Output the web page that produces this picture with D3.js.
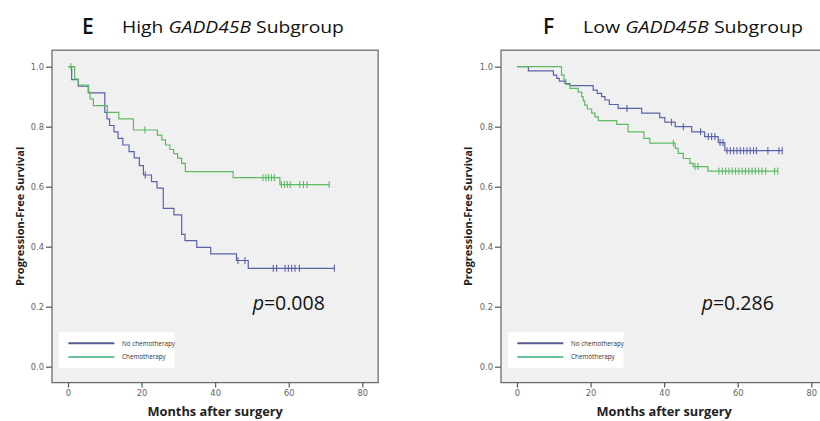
<!DOCTYPE html>
<html><head><meta charset="utf-8">
<script src="https://cdn.jsdelivr.net/npm/d3@7"></script>
<style>html,body{margin:0;padding:0;background:#fff;}svg{display:block;}</style>
</head><body>
<svg id="chart" width="820" height="421"></svg>
<script>
// ---------- data ----------
const xTicks = [0, 20, 40, 60, 80];
const yTicks = [0.0, 0.2, 0.4, 0.6, 0.8, 1.0];
const seriesNames = ["No chemotherapy", "Chemotherapy"];
const panelLetters = ["E", "F"];
const panelGroups = ["High", "Low"];
const pValues = ["0.008", "0.286"];

// High GADD45B – event steps [month, survival after drop]
const highNoChemoSteps = [[1.0,0.957],[2.8,0.935],[5.5,0.913],[10.0,0.848],[10.6,0.826],[11.3,0.804],[12.5,0.783],[13.6,0.761],[14.9,0.739],[16.6,0.717],[18.0,0.696],[19.4,0.670],[20.5,0.639],[22.7,0.617],[24.2,0.595],[25.9,0.528],[28.8,0.506],[30.9,0.441],[31.8,0.420],[35.0,0.398],[38.8,0.376],[45.8,0.354],[49.0,0.328]];
const highNoChemoCensor = [21.0,46.2,48.1,55.8,56.7,59.0,59.9,60.8,61.7,62.9,72.4];
const highChemoSteps = [[1.8,0.959],[2.8,0.939],[5.6,0.915],[6.0,0.893],[6.9,0.870],[10.7,0.848],[13.8,0.826],[17.8,0.789],[24.3,0.772],[25.5,0.756],[26.5,0.739],[27.7,0.724],[28.7,0.710],[29.8,0.695],[30.9,0.678],[31.9,0.650],[44.9,0.630],[57.6,0.607]];
const highChemoCensor = [0.8,20.9,53.0,53.8,54.5,55.3,56.1,58.0,58.8,59.6,60.4,63.0,64.0,65.0,71.0];

// Low GADD45B
const lowNoChemoSteps = [[3.1,0.986],[9.9,0.972],[10.8,0.961],[11.5,0.952],[13.0,0.944],[14.4,0.937],[20.7,0.922],[21.8,0.911],[23.0,0.900],[23.9,0.889],[25.1,0.874],[27.5,0.861],[33.9,0.845],[38.8,0.830],[40.2,0.815],[43.0,0.800],[47.5,0.783],[51.0,0.767],[54.7,0.747],[56.5,0.720]];
const lowNoChemoCensor = [29.9,42.0,45.2,49.9,52.0,52.9,53.8,55.2,56.0,57.1,58.0,58.9,59.8,60.7,61.6,62.5,63.4,64.3,65.1,68.2,71.2,72.1];
const lowChemoSteps = [[12.1,0.972],[12.8,0.956],[13.3,0.941],[14.4,0.928],[16.6,0.915],[17.6,0.900],[18.0,0.886],[18.4,0.872],[19.1,0.859],[20.3,0.845],[21.2,0.833],[22.1,0.820],[27.1,0.808],[30.2,0.783],[34.5,0.761],[36.1,0.745],[43.0,0.728],[43.8,0.711],[45.2,0.694],[47.0,0.678],[47.9,0.667],[51.9,0.652]];
const lowChemoCensor = [42.5,48.4,49.2,54.9,55.8,56.7,57.6,58.5,59.4,60.3,61.2,62.1,63.0,63.9,64.8,65.7,66.6,67.6,70.0,70.9];

// ---------- styling / layout ----------
const colors = ["#5a63a9", "#5cbb62"];
const legendColors = ["#575d90", "#6cc09a"];
const panels = [
  {ox: 0,   letterX: 82,  titleX: 122, titleW: 222, steps: [highNoChemoSteps, highChemoSteps], censor: [highNoChemoCensor, highChemoCensor], ylabX: 20},
  {ox: 449, letterX: 543, titleX: 583, titleW: 220, steps: [lowNoChemoSteps, lowChemoSteps], censor: [lowNoChemoCensor, lowChemoCensor], ylabX: 468}
];

const svg = d3.select("#chart");

panels.forEach((p, pi) => {
  const ox = p.ox;
  const x = d3.scaleLinear().domain([0, 80]).range([68 + ox, 362.3 + ox]);
  const y = d3.scaleLinear().domain([0, 1]).range([366.7, 66.7]);
  const fx0 = x(-4.35), fx1 = x(84.3), fy0 = y(1.055), fy1 = y(-0.053);

  // frame
  svg.append("rect").attr("x", fx0).attr("y", fy0).attr("width", fx1 - fx0).attr("height", fy1 - fy0)
    .attr("fill", "#f0f0f0").attr("stroke", "#6e6e6e").attr("stroke-width", 1.3);

  // axes
  const ya = svg.append("g").attr("transform", `translate(${fx0},0)`)
    .call(d3.axisLeft(y).tickValues(yTicks).tickFormat(d3.format(".1f")).tickSize(6).tickPadding(2));
  const xa = svg.append("g").attr("transform", `translate(0,${fy1})`)
    .call(d3.axisBottom(x).tickValues(xTicks).tickFormat(d3.format("d")).tickSize(5).tickPadding(3));
  [ya, xa].forEach(a => {
    a.select(".domain").remove();
    a.selectAll("line").attr("stroke", "#555").attr("stroke-width", 1.2);
    a.selectAll("text").attr("fill", "#666").attr("font-family", "DejaVu Sans, sans-serif").attr("font-size", 8.3);
  });

  // curves
  const line = d3.line().x(d => x(d[0])).y(d => y(d[1])).curve(d3.curveStepAfter);
  p.steps.forEach((steps, si) => {
    const cens = p.censor[si];
    const tEnd = Math.max(d3.max(cens), d3.max(steps, d => d[0]));
    const pts = [[0, 1]].concat(steps);
    pts.push([tEnd, steps[steps.length - 1][1]]);
    svg.append("path").attr("d", line(pts)).attr("fill", "none")
      .attr("stroke", colors[si]).attr("stroke-width", 1.2);
    const survAt = t => { let s = 1; steps.forEach(d => { if (d[0] <= t) s = d[1]; }); return s; };
    svg.append("g").selectAll("line").data(cens).join("line")
      .attr("x1", d => x(d)).attr("x2", d => x(d))
      .attr("y1", d => y(survAt(d)) - 3.5).attr("y2", d => y(survAt(d)) + 3.5)
      .attr("stroke", colors[si]).attr("stroke-width", 1.1);
  });

  // legend
  const lg = svg.append("g");
  lg.append("rect").attr("x", x(-2.4)).attr("y", 332.3).attr("width", 115.5).attr("height", 36)
    .attr("fill", "#fff");
  seriesNames.forEach((n, i) => {
    const ly = 343.3 + i * 13.7;
    lg.append("line").attr("x1", x(0.1)).attr("x2", x(12.6)).attr("y1", ly).attr("y2", ly)
      .attr("stroke", legendColors[i]).attr("stroke-width", 2);
    lg.append("text").attr("x", x(14.7)).attr("y", ly).attr("dy", "0.35em")
      .attr("font-family", "Open Sans, sans-serif").attr("font-size", 6.3).attr("fill", "#333").text(n);
  });

  // p value
  const pt = svg.append("text").attr("x", x(50.2)).attr("y", 310)
    .attr("font-family", "Open Sans, sans-serif").attr("font-size", 19.5).attr("fill", "#111");
  pt.append("tspan").attr("font-style", "italic").text("p");
  pt.append("tspan").text("=" + pValues[pi]);

  // axis labels
  svg.append("text").attr("x", (x(0) + x(80)) / 2).attr("y", 416)
    .attr("text-anchor", "middle").attr("font-family", "Open Sans, sans-serif").attr("font-weight", 700)
    .attr("font-size", 12.8).attr("fill", "#222").text("Months after surgery");
  svg.append("text").attr("transform", `translate(${p.ylabX + 4},${(fy0 + fy1) / 2}) rotate(-90)`)
    .attr("text-anchor", "middle").attr("font-family", "Open Sans, sans-serif").attr("font-weight", 700)
    .attr("font-size", 11).attr("fill", "#222").text("Progression-Free Survival");

  // titles
  svg.append("text").attr("x", p.letterX).attr("y", 33.5)
    .attr("font-family", "Open Sans, sans-serif").attr("font-weight", 600).attr("font-size", 21).attr("fill", "#111").text(panelLetters[pi]);
  const tt = svg.append("text").attr("x", p.titleX).attr("y", 33.5)
    .attr("font-family", "Open Sans, sans-serif").attr("font-size", 17).attr("fill", "#111");
  tt.append("tspan").text(panelGroups[pi] + " ");
  tt.append("tspan").attr("font-style", "italic").text("GADD45B");
  tt.append("tspan").text(" Subgroup");
  const w = tt.node().getBBox().width;
  tt.attr("transform", `translate(${p.titleX},0) scale(${p.titleW / w},1) translate(${-p.titleX},0)`);
});
</script>
</body></html>
